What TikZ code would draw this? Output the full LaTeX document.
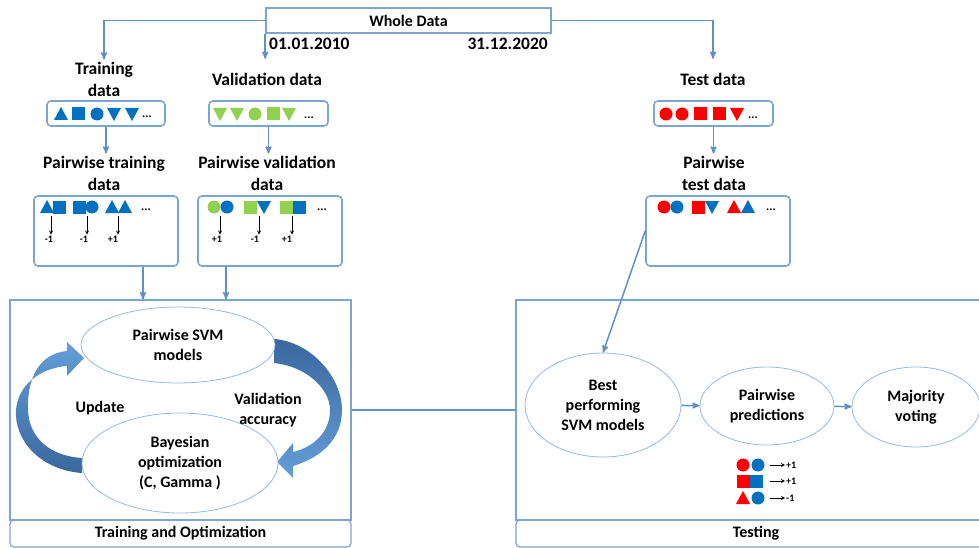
\documentclass[tikz,border=0pt]{standalone}
\usepackage{fontspec}
\setmainfont{Carlito}
\usetikzlibrary{arrows}
\usetikzlibrary{shapes.geometric}

\definecolor{lineblue}{RGB}{95,145,200}
\definecolor{boxblue}{RGB}{125,165,208}
\definecolor{ovalblue}{RGB}{150,185,222}
\definecolor{dotblue}{RGB}{0,112,192}
\definecolor{dotgreen}{RGB}{146,208,80}
\definecolor{dotred}{RGB}{255,0,0}
\definecolor{ringlight}{RGB}{100,158,216}
\definecolor{ringdark}{RGB}{58,104,158}

\newcommand{\shUp}[2]{\fill[#2] (#1) ++(-7,6) -- ++(14,0) -- ++(-7,-13) -- cycle;}
\newcommand{\shDown}[2]{\fill[#2] (#1) ++(-7,-6) -- ++(14,0) -- ++(-7,13) -- cycle;}
\newcommand{\shSq}[2]{\fill[#2] (#1) ++(-6.5,-6.5) rectangle ++(13,13);}
\newcommand{\shDot}[2]{\fill[#2] (#1) circle (6.5pt);}

\tikzset{
  lbl/.style={font={\bfseries\fontsize{17.5}{22}\selectfont}, align=center, inner sep=2pt},
  txt/.style={font={\bfseries\fontsize{16}{20}\selectfont}, align=center, inner sep=1pt},
  pairlbl/.style={font={\bfseries\fontsize{10}{11}\selectfont}, inner sep=1pt},
  dots/.style={font={\bfseries\fontsize{12}{12}\selectfont}, inner sep=0pt},
  databox/.style={draw=boxblue, line width=1.6pt, rounded corners=4pt},
  panel/.style={draw=boxblue, line width=1.2pt},
  oval/.style={ellipse, draw=ovalblue, line width=0.8pt, fill=white, txt},
  conn/.style={draw=lineblue, line width=1.5pt, ->, >=stealth'},
  pairarr/.style={->, >=stealth, line width=0.8pt},
}

\begin{document}
\begin{tikzpicture}[x=1pt, y=-1pt]
  \useasboundingbox (0,0) rectangle (979,548);

  \node[databox, rounded corners=0pt, minimum width=285pt, minimum height=25pt, txt] (whole) at (408.5,20.5) {Whole Data};
  \node[lbl, anchor=west] (start) at (267,44) {01.01.2010};
  \node[lbl, anchor=east] (end) at (550,44) {31.12.2020};

  \node[lbl] (train) at (104,79) {Training\\data};
  \node[lbl, minimum height=40pt] (valid) at (267,79) {Validation data};
  \node[lbl, minimum height=40pt] (test) at (713,79) {Test data};
  \draw[conn] (whole.west) -| (train.north);
  \draw[conn] (whole.south west) -- (whole.south west |- valid.north);
  \draw[conn] (whole.east) -| (test.north);

  \node[databox, minimum width=118pt, minimum height=25pt] (trainset) at (106,113.5) {};
  \node[databox, minimum width=119pt, minimum height=25pt] (validset) at (268.5,113.5) {};
  \node[databox, minimum width=119pt, minimum height=25pt] (testset) at (713.5,113.5) {};

  \shUp{61,114}{dotblue} \shSq{78,114}{dotblue} \shDot{97,114}{dotblue} \shDown{114,114}{dotblue} \shDown{132,114}{dotblue}
  \node[dots] (traindots) at (147,117) {...};
  \shDown{220,114}{dotgreen} \shDown{237,114}{dotgreen} \shDot{255,114}{dotgreen} \shSq{273,114}{dotgreen} \shDown{289,114}{dotgreen}
  \node[dots] (validdots) at (309,118) {...};
  \shDot{666,114}{dotred} \shDot{682,114}{dotred} \shSq{700,114}{dotred} \shSq{719,114}{dotred} \shDown{737,114}{dotred}
  \node[dots] (testdots) at (753,118) {...};

  \node[lbl] (ptrain) at (104,173) {Pairwise training\\data};
  \node[lbl] (pvalid) at (267,173) {Pairwise validation\\data};
  \node[lbl] (ptest) at (714,173) {Pairwise\\test data};
  \draw[conn] (trainset.south) -- (trainset.south |- ptrain.north);
  \draw[conn] (validset.south) -- (validset.south |- pvalid.north);
  \draw[conn] (testset.south) -- (testset.south |- ptest.north);

  \node[databox, minimum width=144pt, minimum height=70pt] (ptrainset) at (106,231) {};
  \node[databox, minimum width=144pt, minimum height=70pt] (pvalidset) at (270,231) {};
  \node[databox, minimum width=144pt, minimum height=70pt] (ptestset) at (718,231) {};

  % pairs and their labels
  \shUp{47,207}{dotblue} \shSq{59,207}{dotblue}
  \shSq{79,207}{dotblue} \shDot{92,207}{dotblue}
  \shUp{112,207}{dotblue} \shUp{125,207}{dotblue}
  \node[dots] (ptraindots) at (146,210) {...};
  \node[pairlbl] (lt1) at (49,239) {-1};
  \node[pairlbl] (lt2) at (84,239) {-1};
  \node[pairlbl] (lt3) at (113,239) {+1};
  \draw[pairarr] (51,216) -- (51,216 |- lt1.north);
  \draw[pairarr] (87,216) -- (87,216 |- lt2.north);
  \draw[pairarr] (118,216) -- (118,216 |- lt3.north);

  \shDot{214,207}{dotgreen} \shDot{227,207}{dotblue}
  \shSq{250,207}{dotgreen} \shDown{264,207}{dotblue}
  \shSq{286,207}{dotgreen} \shSq{299,207}{dotblue}
  \node[dots] (pvaliddots) at (322,210) {...};
  \node[pairlbl] (lv1) at (217,239) {+1};
  \node[pairlbl] (lv2) at (255,239) {-1};
  \node[pairlbl] (lv3) at (287,239) {+1};
  \draw[pairarr] (220,216) -- (220,216 |- lv1.north);
  \draw[pairarr] (259,216) -- (259,216 |- lv2.north);
  \draw[pairarr] (292,216) -- (292,216 |- lv3.north);

  \shDot{664,207}{dotred} \shDot{677,207}{dotblue}
  \shSq{698,207}{dotred} \shDown{712,207}{dotblue}
  \shUp{734,207}{dotred} \shUp{748,207}{dotblue}
  \node[dots] (ptestdots) at (771,210) {...};

  % the two stages
  \node[panel, minimum width=341pt, minimum height=220pt] (trainopt) at (180.5,410) {};
  \node[panel, rounded corners=4pt, minimum width=341pt, minimum height=27pt, txt] (trainoptlbl) at (180.5,533.5) {Training and Optimization};
  \node[panel, minimum width=480pt, minimum height=220pt] (testing) at (756,410) {};
  \node[panel, rounded corners=4pt, minimum width=480pt, minimum height=27pt, txt] (testinglbl) at (756,533.5) {Testing};
  \draw[conn] ([xshift=37pt]ptrainset.south) -- ([xshift=37pt]ptrainset.south |- trainopt.north);
  \draw[conn] ([xshift=-44pt]pvalidset.south) -- ([xshift=-44pt]pvalidset.south |- trainopt.north);
  \draw[draw=lineblue, line width=1.5pt] (trainopt.east) -- (testing.west);

  \shade[top color=ringlight, bottom color=ringdark] (82,473) .. controls (40,470) and (14,440) .. (16,410) .. controls (18,385) and (40,368) .. (67,366) -- (67,376) -- (84,358) -- (67,342) -- (67,351) .. controls (35,354) and (27,385) .. (28,410) .. controls (29,438) and (50,456) .. (82,458) -- cycle;
  \shade[top color=ringdark, bottom color=ringlight] (274,339) .. controls (312,342) and (342,378) .. (342,410) .. controls (342,440) and (320,458) .. (293,466) -- (293,478) -- (277,462) -- (293,443) -- (293,452) .. controls (314,447) and (330,432) .. (330,410) .. controls (330,388) and (305,366) .. (274,363) -- cycle;

  \node[oval, minimum width=194pt, minimum height=76pt] (svm) at (178,345) {Pairwise SVM\\models};
  \node[oval, minimum width=196pt, minimum height=100pt] (bayes) at (180,463) {Bayesian\\optimization\\(C, Gamma )};
  \node[txt] (update) at (100,408) {Update};
  \node[txt] (valacc) at (268,410) {Validation\\accuracy};

  \node[oval, minimum width=156pt, minimum height=104pt] (best) at (603,405) {Best\\performing\\SVM models};
  \node[oval, minimum width=134pt, minimum height=78pt] (preds) at (767,406) {Pairwise\\predictions};
  \node[oval, minimum width=128pt, minimum height=80pt] (major) at (916,407) {Majority\\voting};
  \draw[conn] (best) -- (preds);
  \draw[conn] (preds) -- (major);
  \draw[conn] (ptestset.west) -- (best.north);

  % prediction examples
  \shDot{743,465}{dotred} \shDot{758,465}{dotblue}
  \shSq{743,481}{dotred} \shSq{756,481}{dotblue}
  \shUp{743,498}{dotred} \shDot{758,498}{dotblue}
  \node[pairlbl, anchor=west] (lp1) at (785,465) {+1};
  \node[pairlbl, anchor=west] (lp2) at (785,481) {+1};
  \node[pairlbl, anchor=west] (lp3) at (785,498) {-1};
  \draw[pairarr] (770,465) -- (lp1.west);
  \draw[pairarr] (770,481) -- (lp2.west);
  \draw[pairarr] (770,498) -- (lp3.west);
\end{tikzpicture}
\end{document}
